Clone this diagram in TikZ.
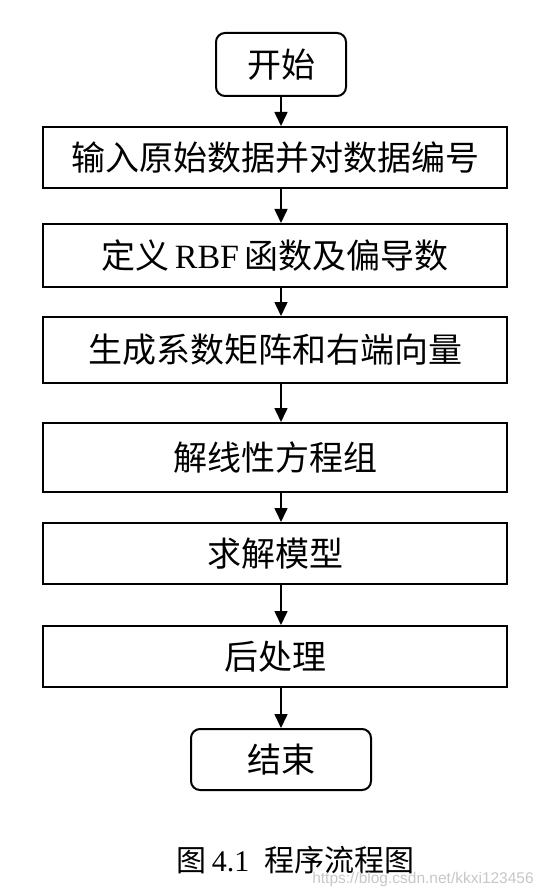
\documentclass[tikz,border=0pt]{standalone}
\usepackage{fontspec}
\setmainfont{Liberation Serif}
\setsansfont{Liberation Sans}
\newfontfamily\cjk{Noto Sans CJK SC}
\usepackage{tikz}
\usetikzlibrary{arrows.meta}
\usetikzlibrary{calc}
\usetikzlibrary{positioning}

\begin{document}
\begin{tikzpicture}
	[
	x=1pt, y=-1pt,
	> = {Triangle[width=13pt,length=14pt]},
	flow/.style = {->, line width=1.6pt},
	box/.style = {draw, line width=2pt, minimum width=464pt, minimum height=61pt, inner sep=0pt, font=\fontsize{34}{40}\selectfont\cjk},
	term/.style = {box, rounded corners=9pt},
	]
	\useasboundingbox (0,0) rectangle (546,893);
	% terminals and steps
	\node[term, minimum width=130pt, minimum height=63pt] (start) at (281,64.5) {开始};
	\node[box] (input) at (275,157.5) {输入原始数据并对数据编号};
	\node[box, minimum height=63pt] (define) at (275,255.5) {定义\,{\rmfamily RBF}\,函数及偏导数};
	\node[box, minimum height=66pt] (matrix) at (275,350) {生成系数矩阵和右端向量};
	\node[box, minimum height=69pt] (linear) at (275,457.5) {解线性方程组};
	\node[box] (model) at (275,553.5) {求解模型};
	\node[box] (post) at (275,656.5) {后处理};
	\node[term, minimum width=180pt] (finish) at (281,759.5) {结束};
	% connectors
	\foreach \a/\b in {start/input, input/define, define/matrix, matrix/linear, linear/model, model/post, post/finish}
		\draw[flow] (\a.south -| start) -- (\b.north -| start);
	% caption
	\node[font=\fontsize{30}{34}\selectfont] (caption) at (295.5,860) {{\cjk 图}\,4.1\ \ {\cjk 程序流程图}};
	\node[font=\sffamily\fontsize{15.5}{18}\selectfont, text=black!22] (mark) at (423,879) {https://blog.csdn.net/kkxi123456};
\end{tikzpicture}
\end{document}
